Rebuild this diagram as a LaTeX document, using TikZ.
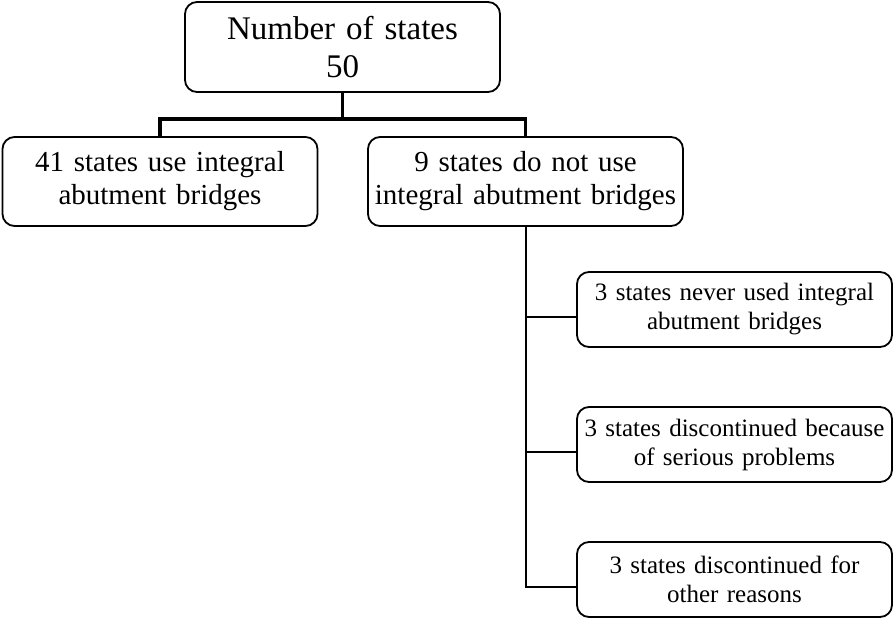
\documentclass[tikz,border=0pt]{standalone}
\usepackage{fontspec}
\setmainfont{Liberation Serif}
\begin{document}
\begin{tikzpicture}[x=1pt,y=-1pt,
  box/.style={draw,rounded corners=12pt,line width=1.8pt,align=center,
    minimum width=315pt,text width=307pt,inner sep=0pt},
  topfont/.style={font=\fontsize{33}{38}\selectfont},
  midfont/.style={font=\fontsize{29}{33}\selectfont},
  lowfont/.style={font=\fontsize{25}{29}\selectfont},
  thickline/.style={line width=3.5pt,line join=miter},
  thinline/.style={line width=2pt,line join=miter}]
\useasboundingbox (0,0) rectangle (894,618);
\node[box,topfont,minimum height=90pt] (top) at (342.5,47) {Number of states\\50};
\node[box,midfont,minimum height=89pt] (l) at (160,181.5) {41 states use integral\\abutment bridges};
\node[box,midfont,minimum height=89pt] (r) at (525.5,181.5) {9 states do not use\\integral abutment bridges};
\node[box,lowfont,minimum height=75pt] (a) at (734.5,309.5) {3 states never used integral\\abutment bridges};
\node[box,lowfont,minimum height=75pt] (b) at (734.5,444.5) {3 states discontinued because\\of serious problems};
\node[box,lowfont,minimum height=75pt] (c) at (734.5,579.5) {3 states discontinued for\\other reasons};
\coordinate (j) at (342.5,119);
\draw[thickline] (top.south) -- (j);
\draw[thickline] (l.north) -- (l.north |- j) -- (r.north |- j) -- (r.north);
\draw[thinline] (r.south) |- ([yshift=-7.5pt]c.west);
\draw[thinline] (r.south |- a.west) ++(0,7.5) -- ([yshift=-7.5pt]a.west);
\draw[thinline] (r.south |- b.west) ++(0,7.5) -- ([yshift=-7.5pt]b.west);
\end{tikzpicture}
\end{document}
